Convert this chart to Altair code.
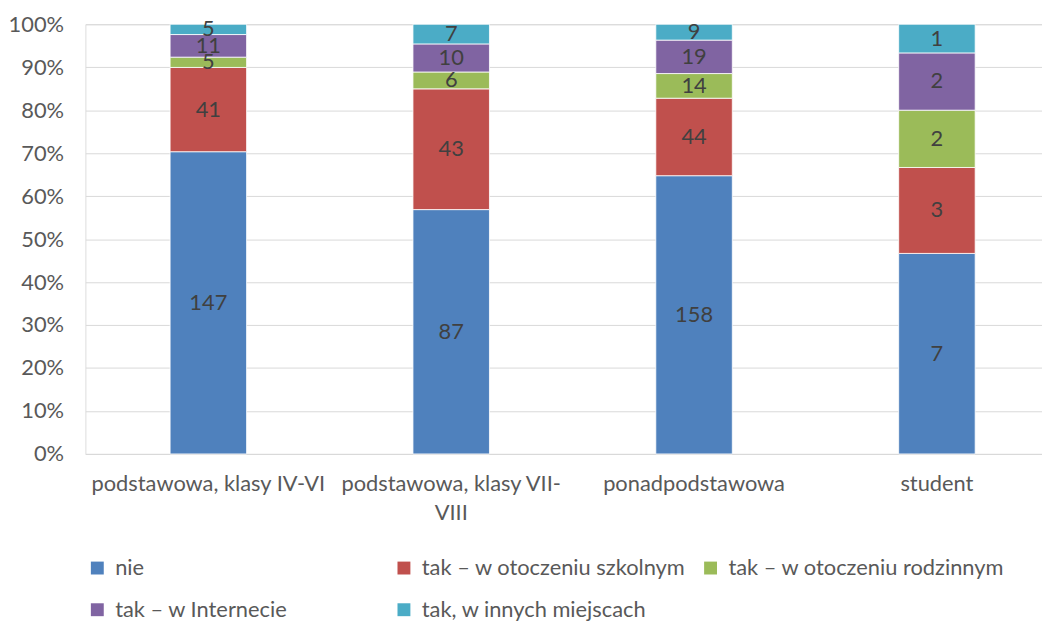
import altair as alt
import pandas as pd

categories = ["podstawowa, klasy IV-VI", "podstawowa, klasy VII-VIII", "ponadpodstawowa", "student"]
series = ["nie", "tak – w otoczeniu szkolnym", "tak – w otoczeniu rodzinnym",
          "tak – w Internecie", "tak, w innych miejscach"]
nie = [147, 87, 158, 7]
szkolnym = [41, 43, 44, 3]
rodzinnym = [5, 6, 14, 2]
internet = [11, 10, 19, 2]
inne = [5, 7, 9, 1]
colors = ["#4F81BD", "#C0504D", "#9BBB59", "#8064A2", "#4BACC6"]
y_ticks = [0, 0.1, 0.2, 0.3, 0.4, 0.5, 0.6, 0.7, 0.8, 0.9, 1.0]

rows = []
for si, (s, vals) in enumerate(zip(series, [nie, szkolnym, rodzinnym, internet, inne])):
    for ci, c in enumerate(categories):
        rows.append({"cat": c, "series": s, "order": si, "value": vals[ci]})
df = pd.DataFrame(rows)

FONT = "Lato"
FS = 22
OFF = 9

base = alt.Chart(df).transform_stack(
    stack="value", groupby=["cat"], sort=[{"field": "order", "order": "ascending"}],
    offset="normalize", as_=["y0", "y1"]
).transform_calculate(mid="(datum.y0 + datum.y1) / 2")

x_enc = alt.X(
    "cat:N", sort=categories, title=None,
    scale=alt.Scale(paddingInner=0.685, paddingOuter=0.312),
    axis=alt.Axis(
        labelAngle=0, domain=True, domainColor="#D9D9D9", domainWidth=1, ticks=False,
        labelPadding=20, labelFontSize=FS, labelFont=FONT, labelColor="#595959",
        labelOffset=OFF, labelBaseline="top", labelLineHeight=29, labelLimit=400,
        labelExpr="datum.label == 'podstawowa, klasy VII-VIII' ? ['podstawowa, klasy VII-', 'VIII'] : datum.label",
    ),
)

bars = base.mark_bar(stroke="white", strokeWidth=0.8, xOffset=OFF).encode(
    x=x_enc,
    y=alt.Y("y0:Q", scale=alt.Scale(domain=[0, 1], nice=False),
            axis=alt.Axis(format="%", values=y_ticks, grid=True, gridColor="#D9D9D9",
                          gridWidth=1, domain=False, ticks=False, labelPadding=22,
                          labelFontSize=FS, labelFont=FONT, labelColor="#595959", title=None)),
    y2="y1:Q",
    color=alt.Color(
        "series:N",
        scale=alt.Scale(domain=series, range=colors),
        sort=series,
        legend=alt.Legend(
            title=None, orient="none", legendX=1, legendY=537, direction="horizontal",
            columns=3, gridAlign="all", columnPadding=1, rowPadding=20,
            symbolType="square", symbolSize=169, symbolStrokeWidth=0, labelFontSize=FS,
            labelFont=FONT, labelColor="#595959", labelLimit=400, labelOffset=7,
        ),
    ),
)

labels = base.mark_text(fontSize=FS, font=FONT, color="#404040", dx=OFF).encode(
    x=alt.X("cat:N", sort=categories),
    y=alt.Y("mid:Q"),
    text=alt.Text("value:Q"),
)

chart = alt.layer(bars, labels).properties(
    width=964, height=433,
    autosize=alt.AutoSizeParams(type="none"),
    padding={"left": 78, "top": 14, "right": 0, "bottom": 168},
).configure_view(stroke=None).configure(background="white")

chart.save("out.html", embed_options={"renderer": "svg", "actions": False})
